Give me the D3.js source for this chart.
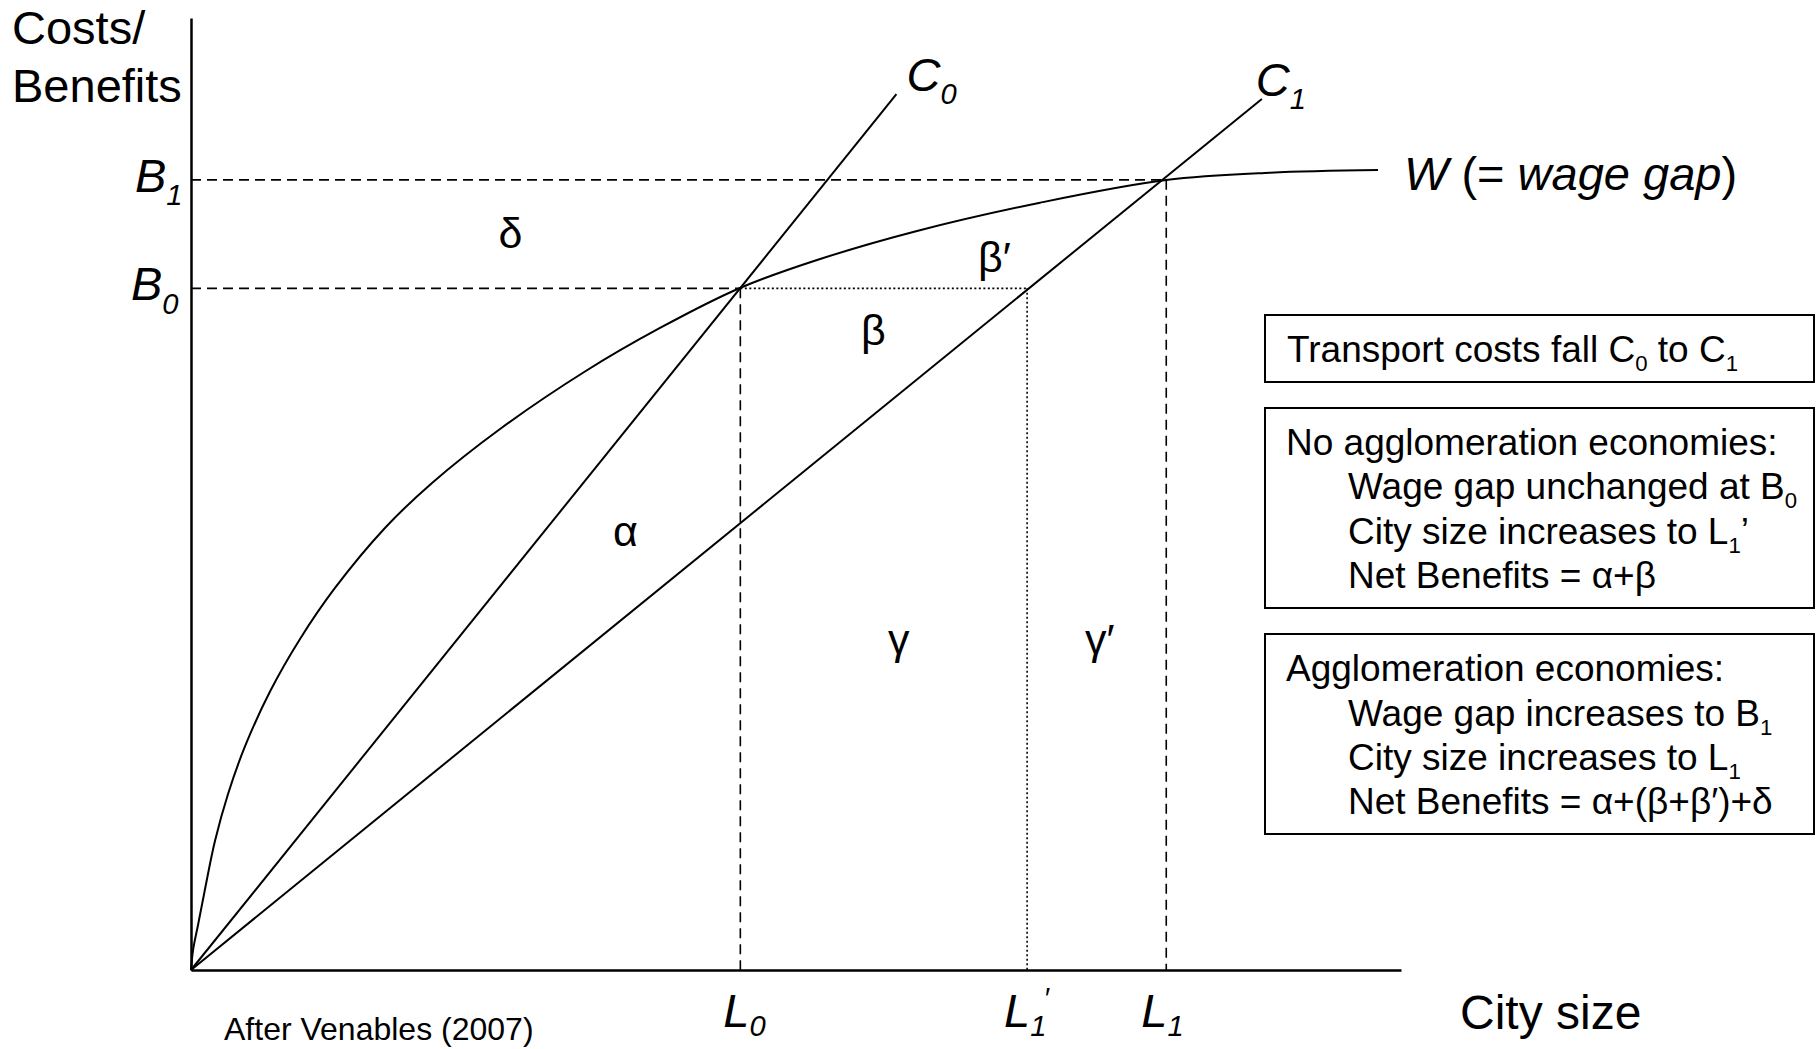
<!DOCTYPE html>
<html>
<head>
<meta charset="utf-8">
<script src="https://cdn.jsdelivr.net/npm/d3@7"></script>
<style>
  body { margin: 0; background: #fff; }
  svg { display: block; }
  text { font-family: "Liberation Sans", Arial, sans-serif; fill: #000; }
  .axis path { stroke: #000; stroke-width: 2.5; }
</style>
</head>
<body>
<div id="chart"></div>
<script>
// Diagram data (abstract units, 0-100 on both axes)
const wageGap = [
  [0, 0], [0.17, 2.1], [0.58, 4.73], [1.16, 8.51], [1.98, 13.55], [3.06, 18.49],
  [4.46, 23.48], [6.53, 29.25], [9.01, 34.77], [11.9, 40.13], [16.03, 46.43],
  [19.92, 51.16], [25.54, 56.83], [32.56, 62.87], [38.76, 67.44], [45.37, 71.64],
  [51.74, 74.58], [60.0, 77.63], [70.17, 80.6], [80.58, 82.98], [89.17, 83.75],
  [98.1, 84.03]
];
const costC0 = [[0, 0], [58.3, 92]];
const costC1 = [[0, 0], [88.5, 91.5]];

const bLevels = [71.6, 83.0];          // B0, B1
const lLevels = [45.4, 69.1, 80.6];    // L0, L1', L1

const areaNames = ["δ", "β′", "β", "α", "γ", "γ′"];
const areaAt = [[26.4, 75.8], [66.4, 73.3], [56.4, 65.6], [35.9, 44.5], [58.5, 33.2], [75.1, 33.2]];

const boxHeads = ["Transport costs fall", "No agglomeration economies:", "Agglomeration economies:"];

const width = 1816, height = 1049;
const svg = d3.select("#chart").append("svg")
  .attr("width", width).attr("height", height);

const x = d3.scaleLinear().domain([0, 100]).range([191, 1401]);
const y = d3.scaleLinear().domain([0, 100]).range([970, 18]);

// axes, no ticks
svg.append("g").attr("class", "axis")
  .attr("transform", `translate(0,${y(0)})`)
  .call(d3.axisBottom(x).tickValues([]).tickSizeOuter(0));
svg.append("g").attr("class", "axis")
  .attr("transform", `translate(${x(0)},0)`)
  .call(d3.axisLeft(y).tickValues([]).tickSizeOuter(0));

const line = d3.line().x(d => x(d[0])).y(d => y(d[1]));

// guide lines
const dash = "10,6", dot = "2,2.5";
const guides = [
  { pts: [[0, bLevels[1]], [lLevels[2], bLevels[1]]], style: dash },
  { pts: [[lLevels[2], bLevels[1]], [lLevels[2], 0]], style: dash },
  { pts: [[0, bLevels[0]], [lLevels[0], bLevels[0]]], style: dash },
  { pts: [[lLevels[0], bLevels[0]], [lLevels[0], 0]], style: dash },
  { pts: [[lLevels[0], bLevels[0]], [lLevels[1], bLevels[0]]], style: dot },
  { pts: [[lLevels[1], bLevels[0]], [lLevels[1], 0]], style: dot }
];
svg.selectAll(".guide").data(guides).join("path")
  .attr("class", "guide")
  .attr("d", d => line(d.pts))
  .attr("fill", "none").attr("stroke", "#000")
  .attr("stroke-width", 1.6)
  .attr("stroke-dasharray", d => d.style);

// curves
svg.append("path").datum(wageGap)
  .attr("d", line.curve(d3.curveCatmullRom.alpha(0.5)))
  .attr("fill", "none").attr("stroke", "#000").attr("stroke-width", 2);
line.curve(d3.curveLinear);
[costC0, costC1].forEach(c => {
  svg.append("path").datum(c).attr("d", line)
    .attr("fill", "none").attr("stroke", "#000").attr("stroke-width", 2);
});

// helper: label with subscript (and optional prime)
function subLabel(px, py, main, sub, opts = {}) {
  const fs = opts.size || 47;
  const down = opts.down || 0.28;
  const t = svg.append("text").attr("x", px).attr("y", py)
    .attr("font-size", fs).attr("font-style", "italic")
    .attr("text-anchor", opts.anchor || "start");
  t.append("tspan").text(main);
  t.append("tspan").attr("font-size", fs * 0.62).attr("dy", fs * down).text(sub);
  if (opts.prime) {
    t.append("tspan").attr("font-size", fs * 0.62).attr("dx", -3).attr("dy", -fs * 0.6).text("′");
  }
  return t;
}

// axis titles
svg.append("text").attr("x", 12).attr("y", 44).attr("font-size", 47).text("Costs/");
svg.append("text").attr("x", 12).attr("y", 102).attr("font-size", 47).text("Benefits");
svg.append("text").attr("x", 1460).attr("y", 1029).attr("font-size", 48).text("City size");
svg.append("text").attr("x", 224).attr("y", 1040).attr("font-size", 32).text("After Venables (2007)");

// B labels
subLabel(x(0) - 56, y(bLevels[1]) + 12, "B", "1");
subLabel(x(0) - 60, y(bLevels[0]) + 12, "B", "0");

// L labels
subLabel(x(lLevels[0]) - 17, 1027, "L", "0", { down: 0.2 });
subLabel(x(lLevels[1]) - 23, 1027, "L", "1", { down: 0.2, prime: true });
subLabel(x(lLevels[2]) - 25, 1027, "L", "1", { down: 0.2 });

// cost curve labels
subLabel(x(costC0[1][0]) + 10, y(costC0[1][1]) - 3, "C", "0");
subLabel(x(costC1[1][0]) - 6, y(costC1[1][1]) - 3, "C", "1");

// wage gap label
const wl = svg.append("text").attr("x", x(wageGap[wageGap.length - 1][0]) + 26)
  .attr("y", y(wageGap[wageGap.length - 1][1]) + 20).attr("font-size", 47);
wl.append("tspan").attr("font-style", "italic").text("W");
wl.append("tspan").text(" (= ");
wl.append("tspan").attr("font-style", "italic").text("wage gap");
wl.append("tspan").text(")");

// area labels
svg.selectAll(".area-label").data(areaNames).join("text")
  .attr("class", "area-label")
  .attr("x", (d, i) => x(areaAt[i][0]))
  .attr("y", (d, i) => y(areaAt[i][1]))
  .attr("text-anchor", "middle")
  .attr("font-size", 43)
  .text(d => d);

// explanation boxes
const boxes = [
  { y0: 315, h: 67 },
  { y0: 408, h: 200 },
  { y0: 634, h: 200 }
];
svg.selectAll(".box").data(boxes).join("rect")
  .attr("class", "box")
  .attr("x", 1265).attr("y", d => d.y0)
  .attr("width", 549).attr("height", d => d.h)
  .attr("fill", "none").attr("stroke", "#000").attr("stroke-width", 2);

const bfs = 37;
function boxLine(px, py, parts) {
  const t = svg.append("text").attr("x", px).attr("y", py).attr("font-size", bfs);
  parts.forEach(p => {
    if (typeof p === "string") t.append("tspan").text(p);
    else if (p.sub) t.append("tspan").attr("font-size", bfs * 0.6).attr("dy", bfs * 0.25).text(p.sub);
    else if (p.up) t.append("tspan").attr("dy", -bfs * 0.25).text(p.up);
  });
}
boxLine(1287, 362, [boxHeads[0] + " C", { sub: "0" }, { up: " to C" }, { sub: "1" }]);

boxLine(1286, 455, [boxHeads[1]]);
boxLine(1348, 499, ["Wage gap unchanged at B", { sub: "0" }]);
boxLine(1348, 544, ["City size increases to L", { sub: "1" }, { up: "’" }]);
boxLine(1348, 588, ["Net Benefits = α+β"]);

boxLine(1286, 681, [boxHeads[2]]);
boxLine(1348, 726, ["Wage gap increases to B", { sub: "1" }]);
boxLine(1348, 770, ["City size increases to L", { sub: "1" }]);
boxLine(1348, 814, ["Net Benefits = α+(β+β′)+δ"]);
</script>
</body>
</html>
